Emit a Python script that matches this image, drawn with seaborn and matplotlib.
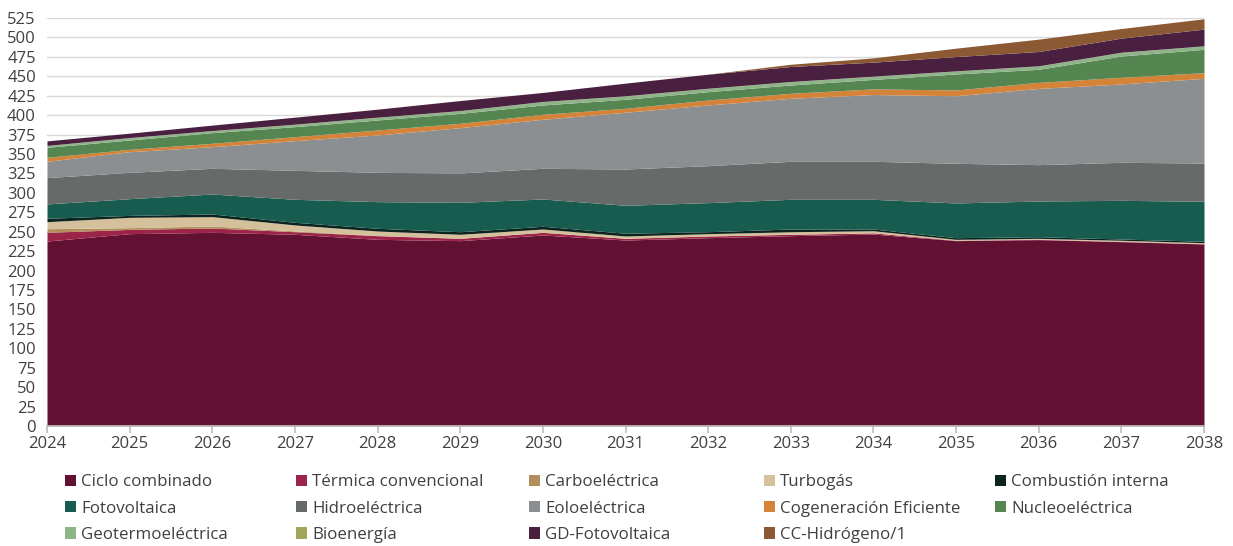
import numpy as np
import pandas as pd
import seaborn as sns
import matplotlib.pyplot as plt
from matplotlib.patches import Patch

years = list(range(2024, 2039))

ciclo_combinado = [238.0, 247.5, 249.2, 246.7, 240.2, 238.5, 245.8, 239.3, 242.3, 244.9, 247.0, 238.5, 239.8, 237.2, 234.2]
termica_convencional = [11.2, 5.5, 5.6, 3.3, 4.7, 3.0, 3.4, 2.2, 2.2, 1.8, 1.5, 0.5, 0.5, 0.4, 0.4]
carboelectrica = [4.7, 2.2, 2.6, 1.0, 0.3, 0, 0, 0, 0, 0, 0, 0, 0, 0, 0]
turbogas = [9.0, 13.3, 12.0, 7.7, 5.7, 5.2, 4.3, 3.0, 3.0, 3.3, 2.8, 1.2, 1.2, 1.4, 1.3]
combustion_interna = [4.4, 2.5, 3.4, 3.4, 3.5, 3.3, 3.5, 3.5, 2.5, 3.5, 2.2, 2.1, 2.1, 1.6, 1.8]
fotovoltaica = [18.4, 21.5, 25.7, 29.6, 34.3, 37.8, 35.1, 36.0, 37.4, 38.2, 38.2, 44.7, 45.9, 49.8, 51.4]
hidroelectrica = [33.9, 33.9, 33.1, 37.3, 37.7, 37.8, 39.5, 46.7, 47.6, 48.9, 48.9, 51.0, 46.8, 48.9, 49.3]
eoloelectrica = [21.0, 26.6, 27.8, 38.2, 48.1, 58.3, 63.1, 73.0, 78.1, 81.1, 85.9, 87.0, 98.1, 100.8, 109.0]
cogeneracion = [5.2, 3.0, 4.4, 5.1, 6.4, 5.6, 6.4, 5.1, 6.4, 6.4, 7.3, 7.4, 7.8, 8.6, 7.3]
nucleoelectrica = [12.8, 12.0, 13.7, 12.9, 12.9, 12.8, 12.0, 11.6, 10.7, 10.7, 12.2, 20.6, 16.8, 27.4, 30.0]
geotermoelectrica = [2.2, 3.0, 2.5, 3.0, 3.4, 3.4, 4.3, 4.3, 4.2, 4.3, 4.0, 3.8, 4.3, 4.7, 4.3]
bioenergia = [0.2, 0.2, 0.2, 0.2, 0.2, 0.2, 0.2, 0.2, 0.2, 0.2, 0.2, 0.2, 0.2, 0.2, 0.2]
gd_fotovoltaica = [5.9, 5.6, 7.0, 9.0, 10.3, 12.9, 11.6, 16.3, 18.1, 19.3, 18.0, 18.4, 18.4, 18.1, 21.5]
cc_hidrogeno = [0, 0, 0, 0, 0, 0, 0, 0, 0, 2.9, 5.5, 10.8, 15.9, 12.4, 13.3]

tecnologias = [
    "Ciclo combinado", "Térmica convencional", "Carboeléctrica", "Turbogás",
    "Combustión interna", "Fotovoltaica", "Hidroeléctrica", "Eoloeléctrica",
    "Cogeneración Eficiente", "Nucleoeléctrica", "Geotermoeléctrica",
    "Bioenergía", "GD-Fotovoltaica", "CC-Hidrógeno/1",
]
series = [
    ciclo_combinado, termica_convencional, carboelectrica, turbogas,
    combustion_interna, fotovoltaica, hidroelectrica, eoloelectrica,
    cogeneracion, nucleoelectrica, geotermoelectrica, bioenergia,
    gd_fotovoltaica, cc_hidrogeno,
]
colores = [
    "#621132", "#9d2449", "#b38e5d", "#d4c19c", "#0c231e", "#175c4f",
    "#666b6a", "#8c8f91", "#d6833a", "#558652", "#8fb48a", "#a3a55a",
    "#4a2040", "#8b5a35",
]
paleta = dict(zip(tecnologias, colores))

df = pd.DataFrame(
    [(y, t, v) for t, vals in zip(tecnologias, series) for y, v in zip(years, vals)],
    columns=["anio", "tecnologia", "valor"],
)

sns.set_theme(style="white")
plt.rcParams["font.family"] = ["Open Sans", "DejaVu Sans"]
texto = "#404040"

fig = plt.figure(figsize=(12.33, 5.46), dpi=100)
ax = fig.add_axes([47 / 1233, 1 - 426 / 546, (1204 - 47) / 1233, 408 / 546])

# seaborn stacks the last hue level at the bottom, so pass the order reversed
sns.histplot(
    data=df, x="anio", weights="valor", hue="tecnologia",
    hue_order=tecnologias[::-1], palette=paleta, discrete=True,
    multiple="stack", element="poly", alpha=1, linewidth=0,
    legend=False, ax=ax,
)

ax.set_xlim(2024, 2038)
ax.set_ylim(0, 525)
ax.set_xticks(years)
ax.set_yticks(np.arange(0, 526, 25))
ax.set_xlabel("")
ax.set_ylabel("")
ax.yaxis.grid(True, color="#d9d9d9", linewidth=1)
ax.xaxis.grid(False)
ax.set_axisbelow(True)
for s in ["left", "right", "top"]:
    ax.spines[s].set_visible(False)
ax.spines["bottom"].set_color("#bfbfbf")
ax.tick_params(axis="x", length=5, color="#bfbfbf", labelsize=12, labelcolor=texto, pad=2, bottom=True)
ax.tick_params(axis="y", length=0, labelsize=12, labelcolor=texto, pad=8)

# legend laid out as five columns
columnas_x = [65, 296, 529, 764, 995]
for c, x in enumerate(columnas_x):
    idx = list(range(c, len(tecnologias), 5))
    handles = [Patch(facecolor=colores[i], edgecolor="none") for i in idx]
    labels = [tecnologias[i] for i in idx]
    leg = fig.legend(
        handles, labels, loc="upper left",
        bbox_to_anchor=(x / 1233, 1 - 474.5 / 546),
        frameon=False, fontsize=12.2, handlelength=0.65, handleheight=0.65,
        handletextpad=0.3, labelspacing=0.6, borderpad=0, borderaxespad=0,
    )
    for t in leg.get_texts():
        t.set_color(texto)

fig.savefig("out.png", dpi=100)
